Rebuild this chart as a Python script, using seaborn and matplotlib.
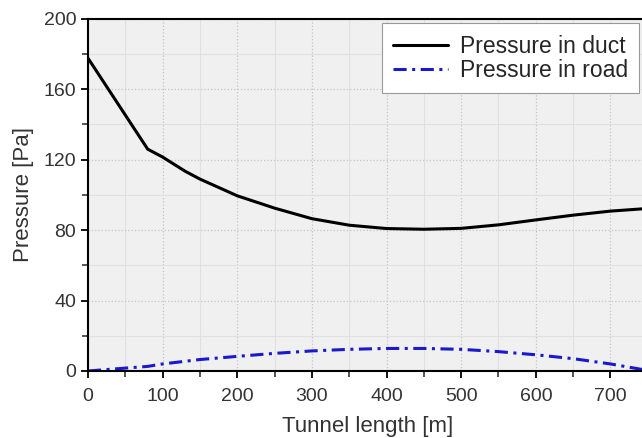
import numpy as np
import pandas as pd
import matplotlib.pyplot as plt
import seaborn as sns
from matplotlib.ticker import MultipleLocator

# Data
length_m = [0, 80, 100, 130, 150, 200, 250, 300, 350, 400, 450, 500, 550, 600, 650, 700, 750]
duct_pa = [177.7, 126, 121.5, 113.5, 109, 99.5, 92.5, 86.5, 82.8, 80.9, 80.5, 81, 83, 85.8, 88.5, 90.8, 92.3]
road_pa = [0, 2.6, 4, 5.5, 6.5, 8.3, 10, 11.4, 12.3, 12.8, 12.8, 12.3, 11, 9.2, 7, 4, 0.3]

df = pd.DataFrame({'Tunnel length [m]': length_m,
                   'Pressure in duct': duct_pa,
                   'Pressure in road': road_pa})

sns.set_style('ticks')
plt.rcParams['font.family'] = ['Liberation Sans', 'DejaVu Sans']

fig = plt.figure(figsize=(6.42, 4.38), dpi=100)
ax = fig.add_axes([0.137, 0.153, 0.872, 0.804])
ax.set_facecolor('#f0f0f0')

sns.lineplot(data=df, x='Tunnel length [m]', y='Pressure in duct', ax=ax,
             color='black', linewidth=2.2, label='Pressure in duct')
sns.lineplot(data=df, x='Tunnel length [m]', y='Pressure in road', ax=ax,
             color='#1a1acc', linewidth=2.2, linestyle=(0, (4.3, 1.8, 1, 1.8)),
             label='Pressure in road')

ax.set_xlim(0, 750)
ax.set_ylim(0, 200)
ax.xaxis.set_major_locator(MultipleLocator(100))
ax.xaxis.set_minor_locator(MultipleLocator(50))
ax.yaxis.set_major_locator(MultipleLocator(40))
ax.yaxis.set_minor_locator(MultipleLocator(20))
ax.grid(which='major', color='#c4c4c4', linestyle=':', linewidth=0.9)
ax.grid(which='minor', color='#e0e0e0', linestyle='-', linewidth=0.8)
ax.set_axisbelow(True)

for s in ax.spines.values():
    s.set_linewidth(1.5)
    s.set_color('black')
ax.tick_params(which='major', length=5, width=1.3, labelsize=14)
ax.tick_params(which='minor', length=4, width=1.1)
ax.tick_params(axis='x', pad=7)
ax.tick_params(axis='both', colors='black', labelcolor='#333333')

ax.set_xlabel('Tunnel length [m]', fontsize=16, color='#333333', labelpad=8)
ax.set_ylabel('Pressure [Pa]', fontsize=16, color='#333333', labelpad=7)

leg = ax.legend(loc='upper right', bbox_to_anchor=(0.996, 0.947),
                bbox_transform=fig.transFigure, fontsize=16.5,
                frameon=True, fancybox=False, edgecolor='#999999', framealpha=1,
                handlelength=2.4, handletextpad=0.5, borderpad=0.5,
                labelspacing=0.05, borderaxespad=0)
leg.get_frame().set_linewidth(0.8)

plt.savefig('out.png', dpi=100)
